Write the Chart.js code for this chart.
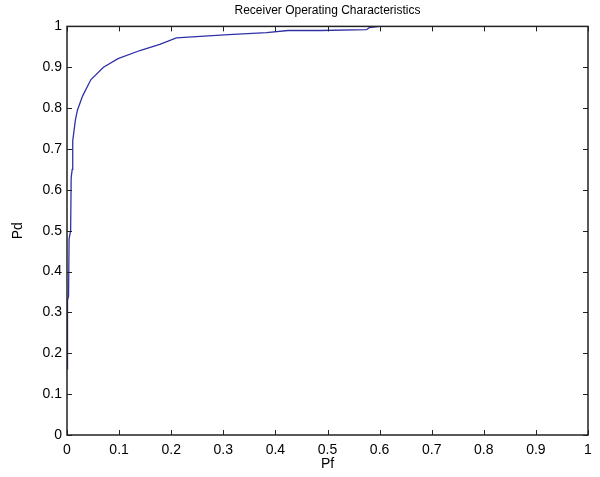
<!DOCTYPE html>
<html>
<head>
<meta charset="utf-8">
<script src="https://cdn.jsdelivr.net/npm/chart.js@4/dist/chart.umd.min.js"></script>
<style>
  html, body { margin: 0; padding: 0; background: #fff; }
  #wrap { width: 600px; height: 477px; }
</style>
</head>
<body>
<div id="wrap"><canvas id="roc" width="600" height="477"></canvas></div>
<script>
// ROC curve values
const pf = [0.001, 0.001, 0.003, 0.004, 0.007, 0.008, 0.010, 0.011, 0.016, 0.020, 0.030, 0.046, 0.070, 0.098, 0.140, 0.178, 0.210, 0.310, 0.383, 0.424, 0.486, 0.575, 0.580, 0.600];
const pd = [0.160, 0.330, 0.340, 0.480, 0.500, 0.630, 0.650, 0.720, 0.770, 0.795, 0.830, 0.870, 0.900, 0.921, 0.941, 0.956, 0.972, 0.980, 0.985, 0.990, 0.990, 0.992, 0.997, 1.000];
const tickValues = [0, 0.1, 0.2, 0.3, 0.4, 0.5, 0.6, 0.7, 0.8, 0.9, 1];

const points = pf.map((x, i) => ({ x, y: pd[i] }));

// inward tick marks on all four sides, matlab style
const innerTicks = {
    id: 'innerTicks',
    afterDraw(chart) {
        const { ctx, chartArea: a, scales } = chart;
        ctx.save();
        ctx.strokeStyle = '#222';
        ctx.lineWidth = 1;
        ctx.beginPath();
        tickValues.forEach(v => {
            const x = Math.round(scales.x.getPixelForValue(v)) + 0.5;
            ctx.moveTo(x, a.bottom); ctx.lineTo(x, a.bottom - 5);
            ctx.moveTo(x, a.top); ctx.lineTo(x, a.top + 5);
            const y = Math.round(scales.y.getPixelForValue(v)) + 0.5;
            ctx.moveTo(a.left, y); ctx.lineTo(a.left + 5, y);
            ctx.moveTo(a.right, y); ctx.lineTo(a.right - 5, y);
        });
        ctx.stroke();
        ctx.lineWidth = 1.5;
        ctx.strokeRect(a.left, a.top, a.right - a.left, a.bottom - a.top);
        ctx.restore();
    }
};

const tickFont = { family: 'Liberation Sans, Arial, sans-serif', size: 14, lineHeight: 1 };

new Chart(document.getElementById('roc').getContext('2d'), {
    type: 'scatter',
    data: {
        datasets: [{
            data: points,
            showLine: true,
            borderColor: '#3030a8',
            borderWidth: 1.3,
            pointRadius: 0,
            tension: 0
        }]
    },
    options: {
        responsive: false,
        animation: false,
        layout: { padding: { left: 0, right: 12, top: 3, bottom: 0 } },
        plugins: {
            legend: { display: false },
            tooltip: { enabled: false },
            title: {
                display: true,
                text: 'Receiver Operating Characteristics',
                color: '#000',
                fullSize: false,
                font: { family: 'Liberation Sans, Arial, sans-serif', size: 12, weight: 'normal' },
                padding: { top: 0, bottom: 9 }
            }
        },
        scales: {
            x: {
                type: 'linear',
                min: 0, max: 1,
                grid: { display: false, drawTicks: false },
                border: { display: false },
                ticks: {
                    stepSize: 0.1, color: '#000', font: tickFont, padding: 8,
                    maxRotation: 0,
                    callback: v => String(Math.round(v * 10) / 10)
                },
                title: { display: true, text: 'Pf', color: '#000', font: tickFont, padding: { top: 0, bottom: 6 } },
                afterFit: scale => { scale.height = 42; }
            },
            y: {
                type: 'linear',
                min: 0, max: 1,
                grid: { display: false, drawTicks: false },
                border: { display: false },
                ticks: {
                    stepSize: 0.1, color: '#000', font: tickFont, padding: 5,
                    callback: v => String(Math.round(v * 10) / 10)
                },
                title: { display: true, text: 'Pd', color: '#000', font: tickFont, padding: { top: 11, bottom: 0 } },
                afterFit: scale => { scale.width = 67; }
            }
        }
    },
    plugins: [innerTicks]
});
</script>
</body>
</html>
